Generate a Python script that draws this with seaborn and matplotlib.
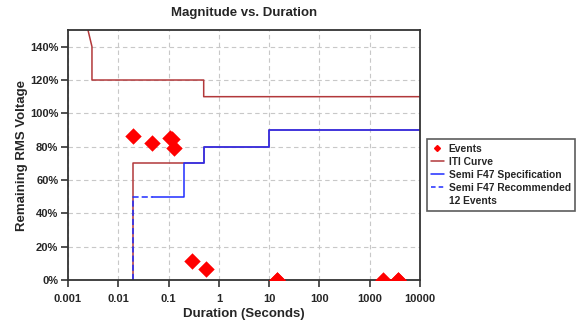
"""
Magnitude vs. Duration chart of voltage sag events against the ITI curve
and the Semi F47 ride-through specification.
"""
import numpy as np
import pandas as pd
from matplotlib import pyplot as plt
from matplotlib.lines import Line2D
import seaborn as sns

# Event data (duration in seconds, remaining voltage in %)
event_duration = [0.0195, 0.047, 0.107, 0.115, 0.13, 0.29, 0.55, 14.3, 14.3, 1820, 3630, 3630]
event_voltage = [86.5, 82.5, 85.3, 84.5, 79.3, 11.5, 6.5, 0, 0, 0, 0, 0]

# ITI curve (upper and lower envelope)
iti_upper_x = [0.001, 0.003, 0.003, 0.5, 0.5, 10000]
iti_upper_y = [200, 140, 120, 120, 110, 110]
iti_lower_x = [0.02, 0.02, 0.5, 0.5, 10, 10, 10000]
iti_lower_y = [0, 70, 70, 80, 80, 90, 90]

# Semi F47
spec_x = [0.05, 0.2, 0.2, 0.5, 0.5, 10, 10, 10000]
spec_y = [50, 50, 70, 70, 80, 80, 90, 90]
rec_x = [0.02, 0.02, 0.05]
rec_y = [0, 50, 50]

x_ticks = [0.001, 0.01, 0.1, 1, 10, 100, 1000, 10000]
x_tick_labels = ["0.001", "0.01", "0.1", "1", "10", "100", "1000", "10000"]
y_ticks = [0, 20, 40, 60, 80, 100, 120, 140]

iti_color = "#b2383a"
f47_color = "#1f2cff"
event_color = "#ff0000"

sns.set_style("white")
plt.rcParams["font.family"] = ["Liberation Sans", "DejaVu Sans"]

fig, ax = plt.subplots(
    figsize=(5.78, 3.21),
    dpi=100,
    gridspec_kw=dict(left=0.1176, right=0.7266, top=0.9065, bottom=0.1277),
)

# Curves
sns.lineplot(x=iti_upper_x, y=iti_upper_y, sort=False, estimator=None,
             color=iti_color, lw=1.1, ax=ax)
sns.lineplot(x=iti_lower_x, y=iti_lower_y, sort=False, estimator=None,
             color=iti_color, lw=1.1, ax=ax)
sns.lineplot(x=spec_x, y=spec_y, sort=False, estimator=None,
             color=f47_color, lw=1.1, ax=ax)
sns.lineplot(x=rec_x, y=rec_y, sort=False, estimator=None,
             color=f47_color, lw=1.1, ax=ax, linestyle=(0, (4, 2)))

# Events
events = pd.DataFrame(dict(duration=event_duration, voltage=event_voltage))
sns.scatterplot(data=events, x="duration", y="voltage", marker="D", s=70,
                color=event_color, edgecolor=event_color, linewidth=0,
                ax=ax, zorder=5)

# Axes formatting
ax.set_xscale("log")
ax.set_xlim(0.001, 10000)
ax.set_ylim(0, 150)
ax.set_xticks(x_ticks)
ax.set_xticklabels(x_tick_labels, fontsize=8, weight="bold")
ax.xaxis.set_minor_locator(plt.NullLocator())
ax.set_yticks(y_ticks)
ax.set_yticklabels([f"{v}%" for v in y_ticks], fontsize=8, weight="bold")
ax.tick_params(axis="both", direction="out", length=5, width=1.2,
               color="#333333", bottom=True, left=True)
ax.tick_params(axis="x", pad=5)
ax.tick_params(axis="y", pad=2)
ax.grid(True, color="#c8c8c8", linestyle=(0, (4, 3)), lw=0.8)
for s in ax.spines.values():
    s.set_color("#333333")
    s.set_linewidth(1.3)

ax.set_xlabel("Duration (Seconds)", fontsize=9.5, weight="bold", labelpad=3)
ax.set_ylabel("Remaining RMS Voltage", fontsize=9.5, weight="bold", labelpad=1)
ax.set_title("Magnitude vs. Duration", fontsize=9.5, weight="bold", pad=10)

# Legend
handles = [
    Line2D([], [], marker="D", color=event_color, linestyle="none", markersize=3),
    Line2D([], [], color=iti_color, lw=1.1),
    Line2D([], [], color=f47_color, lw=1.1),
    Line2D([], [], color=f47_color, lw=1.1, linestyle=(0, (3, 2))),
    Line2D([], [], color="none"),
]
labels = ["Events", "ITI Curve", "Semi F47 Specification",
          "Semi F47 Recommended", "12 Events"]
leg = fig.legend(
    handles, labels,
    loc="upper left", bbox_to_anchor=(0.738, 0.567),
    frameon=True, fancybox=False, edgecolor="#333333",
    prop=dict(size=7.4, weight="bold"),
    handlelength=1.2, handletextpad=0.5, labelspacing=0.3,
    borderpad=0.45, borderaxespad=0,
)
leg.get_frame().set_linewidth(1.2)

plt.savefig("out.png", dpi=100)
